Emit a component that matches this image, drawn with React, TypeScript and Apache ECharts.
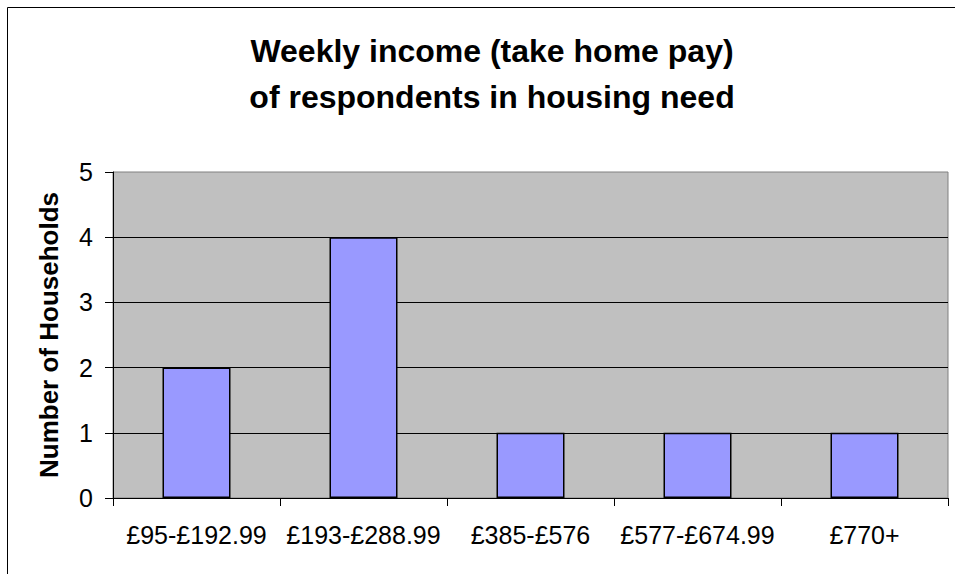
import React, { useEffect, useRef } from "react";
import * as echarts from "echarts";

const categories = ["£95-£192.99", "£193-£288.99", "£385-£576", "£577-£674.99", "£770+"];
const households = [2, 4, 1, 1, 1];
const titleLines = ["Weekly income (take home pay)", "of respondents in housing need"];
const yAxisName = "Number of Households";

export default function App() {
  const ref = useRef<HTMLDivElement>(null);
  useEffect(() => {
    if (!ref.current) return;
    const chart = echarts.init(ref.current, null, { renderer: "svg" });
    const font = "Arial, 'Liberation Sans', sans-serif";
    chart.setOption({
      animation: false,
      backgroundColor: "#ffffff",
      title: {
        text: titleLines.join("\n"),
        left: 487,
        top: 23,
        textAlign: "center",
        textStyle: {
          fontFamily: font,
          fontSize: 32,
          fontWeight: "bold",
          color: "#000",
          lineHeight: 46,
        },
      },
      graphic: [
        {
          type: "rect",
          shape: { x: 7.5, y: 7.5, width: 1200, height: 1200 },
          style: { fill: "none", stroke: "#000", lineWidth: 1 },
          silent: true,
          z: -10,
        },
      ],
      grid: {
        left: 113,
        right: 7,
        top: 172,
        bottom: 76,
        show: true,
        backgroundColor: "#C0C0C0",
        borderColor: "#808080",
        borderWidth: 1,
      },
      xAxis: {
        type: "category",
        data: categories,
        boundaryGap: true,
        axisLine: { lineStyle: { color: "#000", width: 1 } },
        axisTick: { show: true, length: 8, alignWithLabel: false, lineStyle: { color: "#000" } },
        axisLabel: {
          fontFamily: font,
          fontSize: 25,
          color: "#000",
          margin: 24,
          interval: 0,
        },
      },
      yAxis: {
        type: "value",
        min: 0,
        max: 5,
        interval: 1,
        name: yAxisName,
        nameLocation: "middle",
        nameGap: 51,
        nameTextStyle: {
          fontFamily: font,
          fontSize: 26,
          fontWeight: "bold",
          color: "#000",
        },
        axisLine: { show: true, lineStyle: { color: "#000", width: 1 } },
        axisTick: { show: true, length: 8, lineStyle: { color: "#000" } },
        axisLabel: {
          fontFamily: font,
          fontSize: 25,
          color: "#000",
          margin: 20,
        },
        splitLine: {
          show: true,
          showMaxLine: false,
          lineStyle: { color: "#000", width: 1 },
        },
      },
      series: [
        {
          type: "bar",
          data: households,
          barWidth: 68,
          itemStyle: { color: "#9999FF", borderColor: "#000", borderWidth: 1.5 },
        },
      ],
    });
    return () => chart.dispose();
  }, []);
  return (
    <div
      ref={ref}
      style={{ position: "fixed", left: 0, top: 0, width: 955, height: 574 }}
    />
  );
}
